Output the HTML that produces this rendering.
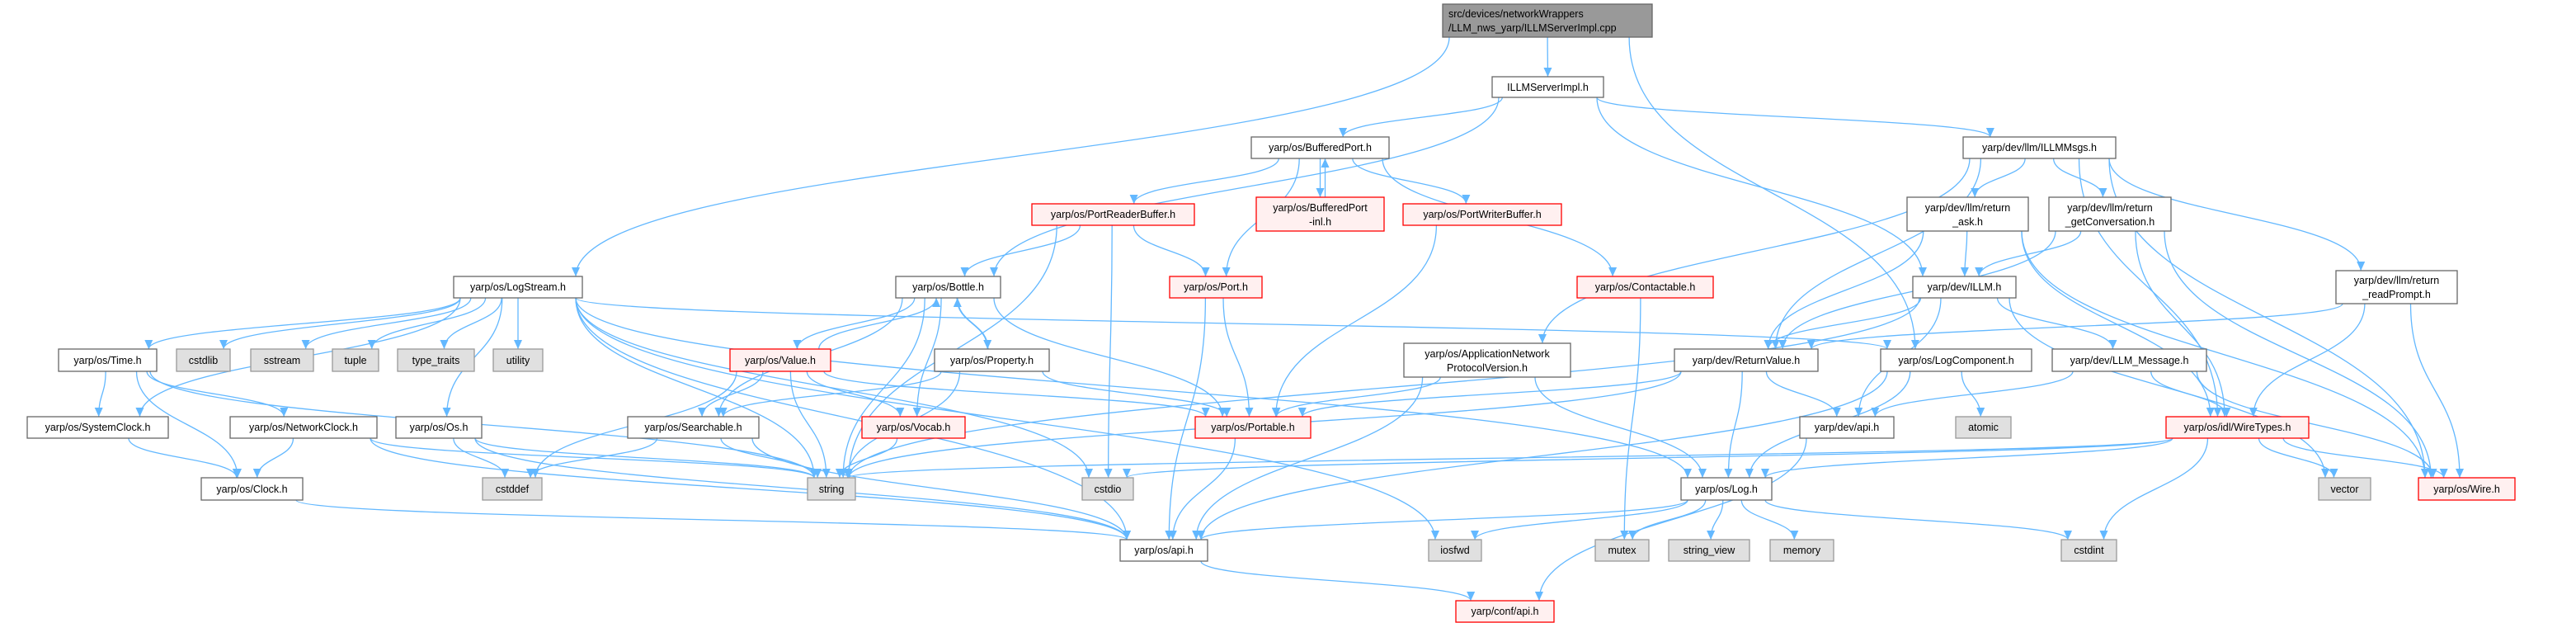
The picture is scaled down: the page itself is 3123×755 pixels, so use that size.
<!DOCTYPE html>
<html><head><meta charset="utf-8"><style>
html,body{margin:0;padding:0;background:#fff;}
svg{display:block;}
text{font-family:"Liberation Sans","DejaVu Sans",sans-serif;font-size:12.5px;fill:#000;}
</style></head><body>
<svg id="g" width="3123" height="755" viewBox="0 0 3123 755" xmlns="http://www.w3.org/2000/svg">
<defs><marker id="ah" markerUnits="userSpaceOnUse" markerWidth="12" markerHeight="10" refX="11" refY="5" orient="auto"><path d="M0,0 L11,5 L0,10 z" fill="#63b8ff"/></marker></defs>
<g id="edges" fill="none" stroke="#63b8ff" stroke-width="1.3"></g>
<g id="nodes" stroke-width="1.3">
<rect x="1749" y="5" width="254" height="40" fill="#999" stroke="#666"/><text x="1756" y="21">src/devices/networkWrappers</text><text x="1756" y="38">/LLM_nws_yarp/ILLMServerImpl.cpp</text>
<rect x="1809" y="93" width="135" height="25" fill="#fff" stroke="#666"/><text x="1876.5" y="110" text-anchor="middle">ILLMServerImpl.h</text>
<rect x="550" y="335" width="156" height="26" fill="#fff" stroke="#666"/><text x="628" y="352" text-anchor="middle">yarp/os/LogStream.h</text>
<rect x="1517" y="166" width="167" height="26" fill="#fff" stroke="#666"/><text x="1600.5" y="183" text-anchor="middle">yarp/os/BufferedPort.h</text>
<rect x="2380" y="166" width="185" height="26" fill="#fff" stroke="#666"/><text x="2472.5" y="183" text-anchor="middle">yarp/dev/llm/ILLMMsgs.h</text>
<rect x="1251" y="247" width="197" height="26" fill="#fff0f0" stroke="#f00"/><text x="1349.5" y="264" text-anchor="middle">yarp/os/PortReaderBuffer.h</text>
<rect x="1523" y="239" width="155" height="41" fill="#fff0f0" stroke="#f00"/><text x="1600.5" y="256" text-anchor="middle">yarp/os/BufferedPort</text><text x="1600.5" y="273" text-anchor="middle">-inl.h</text>
<rect x="1701" y="247" width="192" height="26" fill="#fff0f0" stroke="#f00"/><text x="1797" y="264" text-anchor="middle">yarp/os/PortWriterBuffer.h</text>
<rect x="2312" y="239" width="147" height="41" fill="#fff" stroke="#666"/><text x="2385.5" y="256" text-anchor="middle">yarp/dev/llm/return</text><text x="2385.5" y="273" text-anchor="middle">_ask.h</text>
<rect x="2484" y="239" width="148" height="41" fill="#fff" stroke="#666"/><text x="2558" y="256" text-anchor="middle">yarp/dev/llm/return</text><text x="2558" y="273" text-anchor="middle">_getConversation.h</text>
<rect x="1086" y="335" width="127" height="26" fill="#fff" stroke="#666"/><text x="1149.5" y="352" text-anchor="middle">yarp/os/Bottle.h</text>
<rect x="1418" y="335" width="112" height="26" fill="#fff0f0" stroke="#f00"/><text x="1474" y="352" text-anchor="middle">yarp/os/Port.h</text>
<rect x="1912" y="335" width="165" height="26" fill="#fff0f0" stroke="#f00"/><text x="1994.5" y="352" text-anchor="middle">yarp/os/Contactable.h</text>
<rect x="2319" y="335" width="125" height="26" fill="#fff" stroke="#666"/><text x="2381.5" y="352" text-anchor="middle">yarp/dev/ILLM.h</text>
<rect x="2832" y="328" width="147" height="40" fill="#fff" stroke="#666"/><text x="2905.5" y="344" text-anchor="middle">yarp/dev/llm/return</text><text x="2905.5" y="361" text-anchor="middle">_readPrompt.h</text>
<rect x="71" y="423" width="119" height="27" fill="#fff" stroke="#666"/><text x="130.5" y="441" text-anchor="middle">yarp/os/Time.h</text>
<rect x="214" y="423" width="65" height="27" fill="#e0e0e0" stroke="#999"/><text x="246.5" y="441" text-anchor="middle">cstdlib</text>
<rect x="304" y="423" width="76" height="27" fill="#e0e0e0" stroke="#999"/><text x="342" y="441" text-anchor="middle">sstream</text>
<rect x="403" y="423" width="56" height="27" fill="#e0e0e0" stroke="#999"/><text x="431" y="441" text-anchor="middle">tuple</text>
<rect x="482" y="423" width="93" height="27" fill="#e0e0e0" stroke="#999"/><text x="528.5" y="441" text-anchor="middle">type_traits</text>
<rect x="598" y="423" width="60" height="27" fill="#e0e0e0" stroke="#999"/><text x="628" y="441" text-anchor="middle">utility</text>
<rect x="885" y="423" width="122" height="27" fill="#fff0f0" stroke="#f00"/><text x="946" y="441" text-anchor="middle">yarp/os/Value.h</text>
<rect x="1133" y="423" width="139" height="27" fill="#fff" stroke="#666"/><text x="1202.5" y="441" text-anchor="middle">yarp/os/Property.h</text>
<rect x="1702" y="416" width="202" height="41" fill="#fff" stroke="#666"/><text x="1803" y="433" text-anchor="middle">yarp/os/ApplicationNetwork</text><text x="1803" y="450" text-anchor="middle">ProtocolVersion.h</text>
<rect x="2030" y="423" width="174" height="27" fill="#fff" stroke="#666"/><text x="2117" y="441" text-anchor="middle">yarp/dev/ReturnValue.h</text>
<rect x="2280" y="423" width="183" height="27" fill="#fff" stroke="#666"/><text x="2371.5" y="441" text-anchor="middle">yarp/os/LogComponent.h</text>
<rect x="2488" y="423" width="187" height="27" fill="#fff" stroke="#666"/><text x="2581.5" y="441" text-anchor="middle">yarp/dev/LLM_Message.h</text>
<rect x="33" y="505" width="171" height="26" fill="#fff" stroke="#666"/><text x="118.5" y="522" text-anchor="middle">yarp/os/SystemClock.h</text>
<rect x="279" y="505" width="178" height="26" fill="#fff" stroke="#666"/><text x="368" y="522" text-anchor="middle">yarp/os/NetworkClock.h</text>
<rect x="480" y="505" width="104" height="26" fill="#fff" stroke="#666"/><text x="532" y="522" text-anchor="middle">yarp/os/Os.h</text>
<rect x="761" y="505" width="159" height="26" fill="#fff" stroke="#666"/><text x="840.5" y="522" text-anchor="middle">yarp/os/Searchable.h</text>
<rect x="1045" y="505" width="125" height="26" fill="#fff0f0" stroke="#f00"/><text x="1107.5" y="522" text-anchor="middle">yarp/os/Vocab.h</text>
<rect x="1449" y="505" width="140" height="26" fill="#fff0f0" stroke="#f00"/><text x="1519" y="522" text-anchor="middle">yarp/os/Portable.h</text>
<rect x="2182" y="505" width="114" height="26" fill="#fff" stroke="#666"/><text x="2239" y="522" text-anchor="middle">yarp/dev/api.h</text>
<rect x="2371" y="505" width="67" height="26" fill="#e0e0e0" stroke="#999"/><text x="2404.5" y="522" text-anchor="middle">atomic</text>
<rect x="2626" y="505" width="173" height="26" fill="#fff0f0" stroke="#f00"/><text x="2712.5" y="522" text-anchor="middle">yarp/os/idl/WireTypes.h</text>
<rect x="244" y="579" width="123" height="27" fill="#fff" stroke="#666"/><text x="305.5" y="597" text-anchor="middle">yarp/os/Clock.h</text>
<rect x="585" y="579" width="72" height="27" fill="#e0e0e0" stroke="#999"/><text x="621" y="597" text-anchor="middle">cstddef</text>
<rect x="979" y="579" width="58" height="27" fill="#e0e0e0" stroke="#999"/><text x="1008" y="597" text-anchor="middle">string</text>
<rect x="1312" y="579" width="62" height="27" fill="#e0e0e0" stroke="#999"/><text x="1343" y="597" text-anchor="middle">cstdio</text>
<rect x="2038" y="579" width="110" height="27" fill="#fff" stroke="#666"/><text x="2093" y="597" text-anchor="middle">yarp/os/Log.h</text>
<rect x="2811" y="579" width="63" height="27" fill="#e0e0e0" stroke="#999"/><text x="2842.5" y="597" text-anchor="middle">vector</text>
<rect x="2932" y="579" width="117" height="27" fill="#fff0f0" stroke="#f00"/><text x="2990.5" y="597" text-anchor="middle">yarp/os/Wire.h</text>
<rect x="1358" y="654" width="106" height="26" fill="#fff" stroke="#666"/><text x="1411" y="671" text-anchor="middle">yarp/os/api.h</text>
<rect x="1732" y="654" width="64" height="26" fill="#e0e0e0" stroke="#999"/><text x="1764" y="671" text-anchor="middle">iosfwd</text>
<rect x="1934" y="654" width="65" height="26" fill="#e0e0e0" stroke="#999"/><text x="1966.5" y="671" text-anchor="middle">mutex</text>
<rect x="2023" y="654" width="98" height="26" fill="#e0e0e0" stroke="#999"/><text x="2072" y="671" text-anchor="middle">string_view</text>
<rect x="2146" y="654" width="77" height="26" fill="#e0e0e0" stroke="#999"/><text x="2184.5" y="671" text-anchor="middle">memory</text>
<rect x="2499" y="654" width="67" height="26" fill="#e0e0e0" stroke="#999"/><text x="2532.5" y="671" text-anchor="middle">cstdint</text>
<rect x="1765" y="728" width="119" height="26" fill="#fff0f0" stroke="#f00"/><text x="1824.5" y="745" text-anchor="middle">yarp/conf/api.h</text>
</g>
</svg>
<script>
var N={root:[1749,2003,5,45],srv:[1809,1944,93,118],ls:[550,706,335,361],bp:[1517,1684,166,192],msgs:[2380,2565,166,192],
prb:[1251,1448,247,273],bpi:[1523,1678,239,280],pwb:[1701,1893,247,273],ask:[2312,2459,239,280],conv:[2484,2632,239,280],
bot:[1086,1213,335,361],port:[1418,1530,335,361],cont:[1912,2077,335,361],illm:[2319,2444,335,361],rp:[2832,2979,328,368],
time:[71,190,423,450],cstdlib:[214,279,423,450],sstream:[304,380,423,450],tuple:[403,459,423,450],tt:[482,575,423,450],util:[598,658,423,450],
val:[885,1007,423,450],prop:[1133,1272,423,450],anp:[1702,1904,416,457],rv:[2030,2204,423,450],lc:[2280,2463,423,450],llmm:[2488,2675,423,450],
sc:[33,204,505,531],nc:[279,457,505,531],os:[480,584,505,531],srch:[761,920,505,531],voc:[1045,1170,505,531],portable:[1449,1589,505,531],
dapi:[2182,2296,505,531],atomic:[2371,2438,505,531],wt:[2626,2799,505,531],clock:[244,367,579,606],cstddef:[585,657,579,606],string:[979,1037,579,606],
cstdio:[1312,1374,579,606],log:[2038,2148,579,606],vector:[2811,2874,579,606],wire:[2932,3049,579,606],api:[1358,1464,654,680],
iosfwd:[1732,1796,654,680],mutex:[1934,1999,654,680],sv:[2023,2121,654,680],memory:[2146,2223,654,680],cstdint:[2499,2566,654,680],capi:[1765,1884,728,754]};
var E={root:"ls srv lc",srv:"bot bp illm msgs",bp:"prb port bpi pwb cont",bpi:"bp",msgs:"anp rv ask conv rp wt wire",
ask:"illm rv wt wire",conv:"illm rv wt wire",rp:"rv wt wire",illm:"rv llmm dapi vector string",
ls:"time cstdlib sstream tuple tt util os sc string cstdio api log iosfwd lc",bot:"val prop srch string voc portable",
val:"bot srch voc portable string cstddef",prop:"bot srch portable string",time:"sc clock nc string",sc:"clock",nc:"clock string api",
clock:"api",os:"cstddef string api",srch:"cstddef string api",voc:"string",portable:"api",port:"portable api",prb:"bot port cstdio string",
pwb:"portable",cont:"mutex",anp:"portable api log",rv:"portable string dapi log",lc:"atomic api log",llmm:"dapi wt wire",dapi:"capi",
wt:"string cstdio log vector wire cstdint",log:"api iosfwd mutex sv memory cstdint",api:"capi"};
function cl(v,a,b){return Math.max(a,Math.min(b,v));}
var g=document.getElementById("edges"),h="";
for(var s in E){E[s].split(" ").forEach(function(t){
 var A=N[s],B=N[t];var ac=(A[0]+A[1])/2,bc=(B[0]+B[1])/2;
 var sx=cl(ac+(bc-ac)*0.2,A[0]+8,A[1]-8),ex=cl(bc+(ac-bc)*0.1,B[0]+8,B[1]-8),sy,ey;
 if(B[2]>=A[3]-2){sy=A[3];ey=B[2];}else{sy=A[2];ey=B[3];sx+=6;ex+=6;}
 var dy=(ey-sy)*0.5;
 h+='<path d="M'+sx+','+sy+' C'+sx+','+(sy+dy)+' '+ex+','+(ey-dy)+' '+ex+','+ey+'" marker-end="url(#ah)"/>';
});}
g.innerHTML=h;
</script>
</body></html>
